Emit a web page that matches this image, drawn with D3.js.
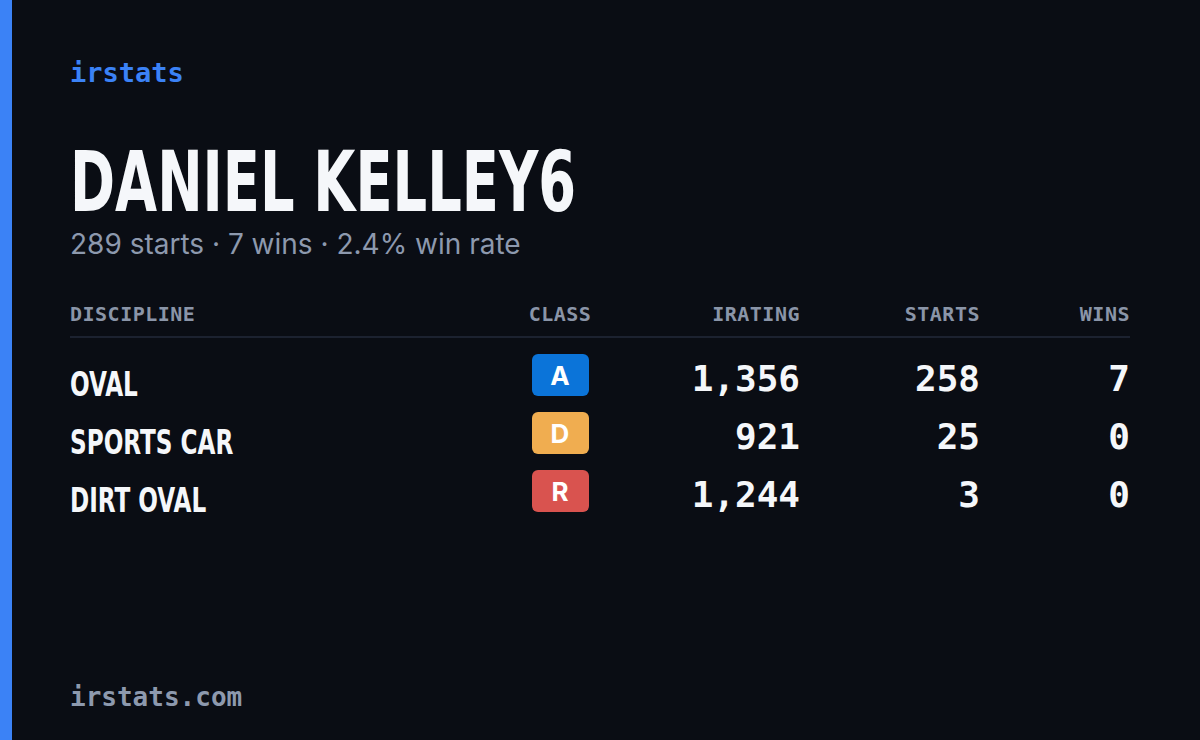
<!DOCTYPE html>
<html><head><meta charset="utf-8">
<script src="https://cdn.jsdelivr.net/npm/d3@7"></script>
<style>body{margin:0;background:#0a0d14}svg{display:block}</style>
</head><body><div id="card"></div>
<script>
const disciplines = ['OVAL', 'SPORTS CAR', 'DIRT OVAL'];
const classes = ['A', 'D', 'R'];
const iratings = [1356, 921, 1244];
const starts = [258, 25, 3];
const wins = [7, 0, 0];
const headers = ['DISCIPLINE', 'CLASS', 'IRATING', 'STARTS', 'WINS'];
const totals = { starts: 289, wins: 7, winRate: '2.4%' };
const classColor = { A: '#0b74d9', D: '#f0ad50', R: '#d9534f' };

const W = 1200, H = 740;
const mono = "'DejaVu Sans Mono', monospace";
const cond = "'DejaVu Sans Condensed', 'DejaVu Sans', sans-serif";
const sans = "Inter, 'Noto Sans', sans-serif";

const svg = d3.select('#card').append('svg').attr('width', W).attr('height', H);
svg.append('rect').attr('width', W).attr('height', H).attr('fill', '#0a0d14');
svg.append('rect').attr('width', 12).attr('height', H).attr('fill', '#3b82f6');

svg.append('text').attr('x', 70).attr('y', 82).text('irstats')
  .attr('fill', '#3b82f6').attr('font-family', mono).attr('font-weight', 700).attr('font-size', 27);

svg.append('text').attr('x', 70).attr('y', 211).text('DANIEL KELLEY6')
  .attr('fill', '#f5f7fa').attr('font-family', cond).attr('font-weight', 700)
  .attr('font-size', 84).attr('textLength', 506).attr('lengthAdjust', 'spacingAndGlyphs');

svg.append('text').attr('x', 70).attr('y', 254)
  .text(`${totals.starts} starts · ${totals.wins} wins · ${totals.winRate} win rate`)
  .attr('fill', '#8d99ae').attr('font-family', sans).attr('font-size', 28);

const colX = [70, 560, 800, 980, 1130];
const colAnchor = ['start', 'middle', 'end', 'end', 'end'];

svg.selectAll('text.hdr').data(headers).join('text').attr('class', 'hdr')
  .attr('x', (d, i) => colX[i]).attr('y', 321).attr('text-anchor', (d, i) => colAnchor[i])
  .attr('fill', '#8a95a8').attr('font-family', mono).attr('font-weight', 700).attr('font-size', 20)
  .attr('letter-spacing', 0.5).text(d => d);
svg.append('line').attr('x1', 70).attr('x2', 1130).attr('y1', 337).attr('y2', 337)
  .attr('stroke', '#1c2230').attr('stroke-width', 2);

const y = d3.scaleBand().domain(d3.range(disciplines.length)).range([346, 520]);
const fmt = d3.format(',');
const rows = svg.selectAll('g.row').data(disciplines).join('g').attr('class', 'row')
  .attr('transform', (d, i) => `translate(0,${y(i)})`);

rows.append('text').attr('transform', 'translate(70,50) scale(0.78,1)').text(d => d)
  .attr('fill', '#f5f7fa').attr('font-family', cond).attr('font-weight', 700).attr('font-size', 33);
rows.append('rect').attr('x', 532).attr('y', 8).attr('width', 57).attr('height', 42).attr('rx', 6)
  .attr('fill', (d, i) => classColor[classes[i]]);
rows.append('text').attr('x', 560).attr('y', 39).attr('text-anchor', 'middle')
  .text((d, i) => classes[i]).attr('fill', '#fff').attr('font-family', sans)
  .attr('font-weight', 700).attr('font-size', 26);
const nums = [iratings.map(fmt), starts, wins];
nums.forEach((arr, c) => {
  rows.append('text').attr('x', colX[c + 2]).attr('y', 45).attr('text-anchor', 'end')
    .text((d, i) => arr[i]).attr('fill', '#f5f7fa').attr('font-family', mono)
    .attr('font-weight', 700).attr('font-size', 36);
});

svg.append('text').attr('x', 70).attr('y', 706).text('irstats.com')
  .attr('fill', '#8d99ae').attr('font-family', mono).attr('font-weight', 700).attr('font-size', 26);
</script></body></html>
